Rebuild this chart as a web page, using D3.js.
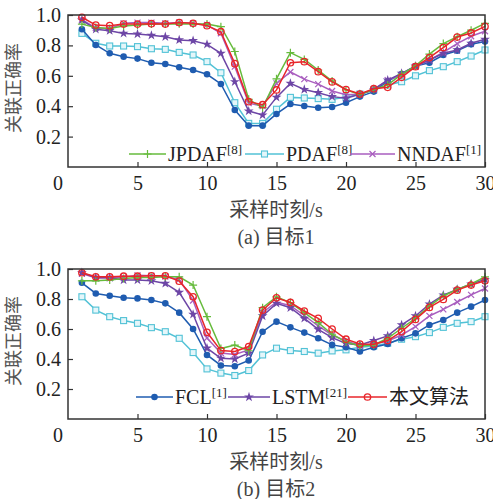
<!DOCTYPE html>
<html>
<head>
<meta charset="utf-8">
<script src="https://cdn.jsdelivr.net/npm/d3@7"></script>
<style>
  html, body { margin: 0; padding: 0; background: #fff; }
  svg { display: block; }
  text { font-family: "Liberation Serif", "Noto Sans CJK SC", serif; }
</style>
</head>
<body>
<svg width="493" height="499"></svg>
<script>
// ---- data
const times = [1,2,3,4,5,6,7,8,9,10,11,12,13,14,15,16,17,18,19,20,21,22,23,24,25,26,27,28,29,30];
const yTicks = [0.2, 0.4, 0.6, 0.8, 1.0];
const xTicks = [5, 10, 15, 20, 25, 30];

// (a) 目标1
const pdafA  = [0.879,0.814,0.796,0.796,0.792,0.778,0.774,0.754,0.737,0.693,0.62,0.423,0.287,0.287,0.38,0.458,0.454,0.45,0.445,0.458,0.48,0.507,0.54,0.561,0.6,0.634,0.66,0.693,0.73,0.77];
const fclA   = [0.906,0.803,0.748,0.726,0.713,0.686,0.678,0.656,0.638,0.61,0.546,0.375,0.272,0.272,0.349,0.414,0.401,0.39,0.395,0.423,0.463,0.496,0.566,0.612,0.664,0.686,0.737,0.765,0.807,0.825];
const nndafA = [0.97,0.915,0.91,0.945,0.95,0.95,0.945,0.95,0.945,0.935,0.88,0.66,0.42,0.4,0.55,0.625,0.578,0.545,0.5,0.475,0.478,0.51,0.572,0.605,0.66,0.703,0.755,0.812,0.86,0.893];
const lstmA  = [0.967,0.906,0.897,0.879,0.875,0.866,0.857,0.836,0.831,0.807,0.748,0.561,0.368,0.342,0.458,0.55,0.51,0.489,0.463,0.452,0.478,0.51,0.572,0.616,0.664,0.704,0.748,0.77,0.814,0.84];
const jpdafA = [0.94,0.917,0.912,0.928,0.934,0.94,0.94,0.942,0.94,0.94,0.923,0.76,0.445,0.39,0.58,0.752,0.708,0.638,0.566,0.507,0.478,0.51,0.54,0.61,0.665,0.743,0.812,0.857,0.9,0.945];
const oursA  = [0.985,0.934,0.93,0.94,0.94,0.943,0.94,0.95,0.945,0.93,0.89,0.68,0.43,0.41,0.507,0.686,0.693,0.627,0.56,0.51,0.48,0.515,0.524,0.59,0.66,0.72,0.786,0.855,0.882,0.925];

// (b) 目标2
const pdafB  = [0.815,0.726,0.682,0.656,0.638,0.609,0.582,0.538,0.443,0.334,0.306,0.29,0.323,0.427,0.472,0.456,0.45,0.439,0.454,0.461,0.478,0.487,0.505,0.532,0.549,0.576,0.611,0.638,0.649,0.682];
const fclB   = [0.908,0.837,0.822,0.808,0.804,0.793,0.771,0.709,0.6,0.427,0.357,0.352,0.39,0.582,0.649,0.611,0.576,0.538,0.494,0.478,0.45,0.478,0.5,0.538,0.571,0.627,0.66,0.709,0.749,0.793];
const nndafB = [0.97,0.94,0.94,0.945,0.958,0.955,0.95,0.93,0.79,0.54,0.44,0.43,0.46,0.71,0.78,0.755,0.69,0.62,0.56,0.52,0.49,0.5,0.52,0.56,0.616,0.687,0.731,0.78,0.828,0.87];
const lstmB  = [0.975,0.943,0.943,0.926,0.926,0.921,0.904,0.844,0.698,0.472,0.405,0.4,0.438,0.687,0.771,0.742,0.671,0.598,0.542,0.504,0.494,0.523,0.554,0.627,0.687,0.766,0.826,0.864,0.9,0.93];
const jpdafB = [0.921,0.921,0.926,0.937,0.943,0.943,0.948,0.948,0.893,0.682,0.47,0.493,0.455,0.742,0.815,0.776,0.709,0.642,0.565,0.513,0.487,0.494,0.538,0.605,0.671,0.753,0.82,0.864,0.9,0.948];
const oursB  = [0.975,0.948,0.948,0.952,0.952,0.955,0.955,0.919,0.815,0.578,0.456,0.45,0.483,0.726,0.808,0.777,0.72,0.671,0.6,0.532,0.5,0.498,0.523,0.582,0.664,0.744,0.797,0.859,0.893,0.921];

// ---- series styles (draw order)
const styles = {
    PDAF:  { color: '#52c2d6', sym: 'square' },
    FCL:   { color: '#1f5cb0', sym: 'dot' },
    NNDAF: { color: '#a95ebf', sym: 'cross' },
    LSTM:  { color: '#6d46a6', sym: 'star' },
    JPDAF: { color: '#66bb3c', sym: 'plus' },
    OURS:  { color: '#e8262b', sym: 'circle' }
};

const panels = [
    {
        top: 15, bottom: 167,
        series: { PDAF: pdafA, FCL: fclA, NNDAF: nndafA, LSTM: lstmA, JPDAF: jpdafA, OURS: oursA },
        legend: [
            { key: 'JPDAF', name: 'JPDAF', sup: '[8]', x1: 129, x2: 166 },
            { key: 'PDAF',  name: 'PDAF',  sup: '[8]', x1: 245, x2: 284 },
            { key: 'NNDAF', name: 'NNDAF', sup: '[1]', x1: 350, x2: 395 }
        ],
        legendY: 154,
        caption: '(a) 目标1'
    },
    {
        top: 269, bottom: 419,
        series: { PDAF: pdafB, FCL: fclB, NNDAF: nndafB, LSTM: lstmB, JPDAF: jpdafB, OURS: oursB },
        legend: [
            { key: 'FCL',  name: 'FCL',  sup: '[1]',  x1: 136, x2: 173 },
            { key: 'LSTM', name: 'LSTM', sup: '[21]', x1: 228, x2: 270 },
            { key: 'OURS', name: '本文算法', sup: '', x1: 348, x2: 387 }
        ],
        legendY: 397,
        caption: '(b) 目标2'
    }
];

const svg = d3.select('svg');
const left = 68, right = 485;
const x = d3.scaleLinear().domain([0, 30]).range([left, right]);

function drawMarker(g, sym, cx, cy, color) {
    if (sym === 'plus') {
        g.append('path').attr('d', `M${cx-4},${cy}H${cx+4}M${cx},${cy-4}V${cy+4}`)
            .attr('stroke', color).attr('stroke-width', 1.2).attr('fill', 'none');
    } else if (sym === 'cross') {
        g.append('path').attr('d', `M${cx-3},${cy-3}L${cx+3},${cy+3}M${cx-3},${cy+3}L${cx+3},${cy-3}`)
            .attr('stroke', color).attr('stroke-width', 1.2).attr('fill', 'none');
    } else if (sym === 'square') {
        g.append('rect').attr('x', cx - 3).attr('y', cy - 3).attr('width', 6).attr('height', 6)
            .attr('stroke', color).attr('stroke-width', 1.1).attr('fill', '#e4f6fa');
    } else if (sym === 'circle') {
        g.append('circle').attr('cx', cx).attr('cy', cy).attr('r', 3.2)
            .attr('stroke', color).attr('stroke-width', 1.3).attr('fill', 'none');
    } else if (sym === 'dot') {
        g.append('path').attr('d', d3.symbol(d3.symbolCircle, 34)())
            .attr('transform', `translate(${cx},${cy})`).attr('fill', color);
    } else if (sym === 'star') {
        g.append('path').attr('d', d3.symbol(d3.symbolStar, 30)())
            .attr('transform', `translate(${cx},${cy})`).attr('fill', color);
    }
}

panels.forEach(p => {
    const y = d3.scaleLinear().domain([0, 1]).range([p.bottom, p.top]);
    const g = svg.append('g');

    // ---- axes
    const xAxis = d3.axisBottom(x).tickValues(xTicks).tickSizeInner(-5).tickSizeOuter(0).tickPadding(9);
    g.append('g').attr('transform', `translate(0,${p.bottom})`).call(xAxis)
        .call(a => a.select('.domain').remove());

    const yAxis = d3.axisLeft(y).tickValues(yTicks).tickFormat(d3.format('.1f'))
        .tickSizeInner(-5).tickSizeOuter(0).tickPadding(7);
    g.append('g').attr('transform', `translate(${left},0)`).call(yAxis)
        .call(a => a.select('.domain').remove());

    g.selectAll('.tick line').attr('stroke', '#333').attr('stroke-width', 1.2);
    g.selectAll('.tick text').attr('fill', '#222').style('font-size', '20px')
        .style('font-family', '"Liberation Serif", serif');

    // "0" at the corner
    g.append('text').attr('x', x(0) - 10).attr('y', p.bottom + 23)
        .attr('text-anchor', 'middle').attr('fill', '#222').style('font-size', '20px').text('0');

    // ---- lines and markers
    const line = d3.line().x((d, i) => x(times[i])).y(d => y(d));
    Object.keys(styles).forEach(k => {
        const vals = p.series[k];
        const st = styles[k];
        g.append('path').datum(vals).attr('d', line)
            .attr('fill', 'none').attr('stroke', st.color).attr('stroke-width', 1.5);
        const mg = g.append('g');
        vals.forEach((v, i) => drawMarker(mg, st.sym, x(times[i]), y(v), st.color));
    });

    // ---- frame
    g.append('rect').attr('x', left).attr('y', p.top)
        .attr('width', right - left).attr('height', p.bottom - p.top)
        .attr('fill', 'none').attr('stroke', '#333').attr('stroke-width', 1.5);

    // ---- legend
    p.legend.forEach(l => {
        const st = styles[l.key];
        g.append('line').attr('x1', l.x1).attr('x2', l.x2).attr('y1', p.legendY).attr('y2', p.legendY)
            .attr('stroke', st.color).attr('stroke-width', 1.5);
        drawMarker(g, st.sym, (l.x1 + l.x2) / 2, p.legendY, st.color);
        const t = g.append('text').attr('x', l.x2 + 2).attr('y', p.legendY + 7)
            .attr('fill', '#222').style('font-size', '20px');
        t.append('tspan').text(l.name);
        if (l.sup) {
            t.append('tspan').attr('dy', -7).style('font-size', '13px').text(l.sup);
        }
    });

    // ---- axis titles
    g.append('text').attr('x', 276).attr('y', p.bottom + 50).attr('text-anchor', 'middle')
        .attr('fill', '#444').style('font-size', '20px').text('采样时刻/s');
    g.append('text').attr('x', 276).attr('y', p.bottom + 77).attr('text-anchor', 'middle')
        .attr('fill', '#444').style('font-size', '20px').text(p.caption);

    const cy = (p.top + p.bottom) / 2 - 3;
    g.append('text').attr('transform', `translate(20,${cy}) rotate(-90)`)
        .attr('text-anchor', 'middle').attr('fill', '#555').style('font-size', '18px').text('关联正确率');
});
</script>
</body>
</html>
